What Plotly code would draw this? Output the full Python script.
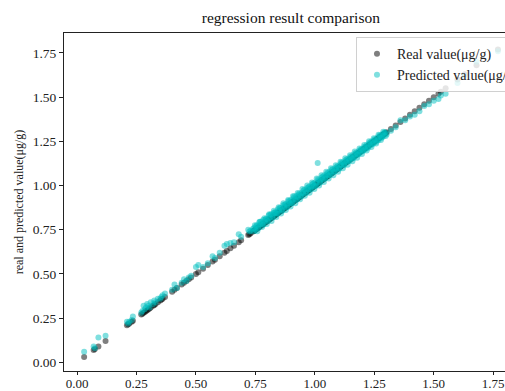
import plotly.graph_objects as go

# ---- data ----
real_low = [0.03, 0.07, 0.075, 0.09, 0.12,
            0.21, 0.215, 0.22, 0.23, 0.235,
            0.27, 0.275, 0.28, 0.285, 0.29, 0.295, 0.30, 0.305, 0.31, 0.32, 0.325, 0.33, 0.34, 0.35, 0.355, 0.36, 0.37,
            0.40, 0.41, 0.42, 0.44, 0.45, 0.46, 0.47, 0.48, 0.50, 0.51, 0.53, 0.55, 0.57, 0.58, 0.60, 0.62, 0.63,
            0.645, 0.66, 0.68, 0.69, 0.72, 0.725, 0.73]
pred_low = [0.06, 0.09, 0.08, 0.14, 0.15,
            0.23, 0.22, 0.23, 0.24, 0.26,
            0.28, 0.29, 0.32, 0.30, 0.31, 0.33, 0.32, 0.31, 0.34, 0.33, 0.35, 0.34, 0.36, 0.36, 0.37, 0.38, 0.39,
            0.41, 0.44, 0.42, 0.45, 0.47, 0.46, 0.48, 0.49, 0.54, 0.55, 0.54, 0.56, 0.60, 0.59, 0.62, 0.66, 0.67,
            0.675, 0.68, 0.725, 0.71, 0.75, 0.74, 0.745]

real_band_a = [0.740, 0.745, 0.750, 0.756, 0.761, 0.767, 0.772, 0.778, 0.783, 0.789, 0.795, 0.800, 0.806, 0.811,
               0.817, 0.822, 0.828, 0.834, 0.839, 0.845, 0.850, 0.856, 0.861, 0.867, 0.873, 0.878, 0.884, 0.889,
               0.895, 0.900, 0.906, 0.912, 0.917, 0.923, 0.928, 0.934, 0.939, 0.945, 0.951, 0.956, 0.962, 0.967,
               0.973, 0.978, 0.984, 0.990, 0.995, 1.001, 1.006, 1.012, 1.017, 1.023, 1.029, 1.034, 1.040, 1.045,
               1.051, 1.056, 1.062, 1.068, 1.073, 1.079, 1.084, 1.090, 1.095, 1.101, 1.107, 1.112, 1.118, 1.123,
               1.129, 1.134, 1.140, 1.146, 1.151, 1.157, 1.162, 1.168, 1.173, 1.179, 1.185, 1.190, 1.196, 1.201,
               1.207, 1.212, 1.218, 1.224, 1.229, 1.235, 1.240, 1.246, 1.251, 1.257, 1.263, 1.268, 1.274, 1.279,
               1.285, 1.290, 1.296, 1.302]
pred_band_a = [0.755, 0.760, 0.748, 0.776, 0.770, 0.792, 0.781, 0.786, 0.805, 0.795, 0.812, 0.808, 0.830, 0.818,
               0.838, 0.829, 0.846, 0.850, 0.845, 0.866, 0.858, 0.872, 0.865, 0.889, 0.880, 0.895, 0.890, 0.912,
               0.900, 0.918, 0.910, 0.930, 0.925, 0.941, 0.932, 0.955, 0.946, 0.960, 0.955, 0.976, 0.968, 0.985,
               0.978, 0.995, 0.990, 1.008, 0.998, 1.018, 1.010, 1.128, 1.030, 1.028, 1.045, 1.036, 1.058, 1.050,
               1.064, 1.058, 1.078, 1.070, 1.088, 1.080, 1.098, 1.092, 1.110, 1.100, 1.120, 1.115, 1.130, 1.122,
               1.142, 1.133, 1.152, 1.144, 1.165, 1.155, 1.175, 1.165, 1.186, 1.176, 1.196, 1.186, 1.207, 1.198,
               1.218, 1.206, 1.230, 1.218, 1.240, 1.228, 1.250, 1.238, 1.262, 1.247, 1.272, 1.258, 1.280, 1.270,
               1.292, 1.280, 1.300, 1.290]

real_band_b = [0.743, 0.753, 0.763, 0.773, 0.783, 0.793, 0.803, 0.813, 0.823, 0.833, 0.843, 0.853, 0.863, 0.873,
               0.883, 0.893, 0.903, 0.913, 0.923, 0.933, 0.943, 0.953, 0.963, 0.973, 0.983, 0.993, 1.003, 1.013,
               1.023, 1.033, 1.043, 1.053, 1.063, 1.073, 1.083, 1.093, 1.103, 1.113, 1.123, 1.133, 1.143, 1.153,
               1.163, 1.173, 1.183, 1.193, 1.203, 1.213, 1.223, 1.233, 1.243, 1.253, 1.263, 1.273, 1.283, 1.293]
pred_band_b = [0.742, 0.770, 0.758, 0.795, 0.778, 0.808, 0.800, 0.835, 0.820, 0.845, 0.840, 0.875, 0.858, 0.892,
               0.878, 0.910, 0.900, 0.940, 0.918, 0.948, 0.938, 0.972, 0.958, 0.990, 0.978, 1.012, 0.998, 1.035,
               1.018, 1.050, 1.040, 1.072, 1.058, 1.092, 1.078, 1.105, 1.095, 1.130, 1.115, 1.148, 1.138, 1.162,
               1.155, 1.182, 1.175, 1.202, 1.195, 1.220, 1.212, 1.245, 1.235, 1.258, 1.255, 1.285, 1.272, 1.300]

real_band_c = [0.748, 0.758, 0.768, 0.778, 0.788, 0.798, 0.808, 0.818, 0.828, 0.838, 0.848, 0.858, 0.868, 0.878,
               0.888, 0.898, 0.908, 0.918, 0.928, 0.938, 0.948, 0.958, 0.968, 0.978, 0.988, 0.998, 1.008, 1.018,
               1.028, 1.038, 1.048, 1.058, 1.068, 1.078, 1.088, 1.098, 1.108, 1.118, 1.128, 1.138, 1.148, 1.158,
               1.168, 1.178, 1.188, 1.198, 1.208, 1.218, 1.228, 1.238, 1.248, 1.258, 1.268, 1.278, 1.288, 1.298]
pred_band_c = [0.775, 0.742, 0.795, 0.765, 0.815, 0.782, 0.838, 0.800, 0.858, 0.822, 0.878, 0.842, 0.900, 0.862,
               0.918, 0.882, 0.940, 0.900, 0.958, 0.922, 0.980, 0.942, 1.000, 0.960, 1.018, 0.980, 1.040, 1.000,
               1.058, 1.020, 1.078, 1.040, 1.098, 1.058, 1.115, 1.078, 1.135, 1.098, 1.155, 1.118, 1.172, 1.138,
               1.192, 1.158, 1.210, 1.178, 1.230, 1.198, 1.250, 1.218, 1.268, 1.238, 1.288, 1.258, 1.305, 1.280]

real_high = [1.32, 1.34, 1.36, 1.38, 1.40, 1.42, 1.44, 1.46, 1.48, 1.50, 1.52, 1.53, 1.55, 1.60, 1.63, 1.68, 1.77]
pred_high = [1.31, 1.33, 1.37, 1.37, 1.39, 1.40, 1.42, 1.45, 1.46, 1.48, 1.49, 1.51, 1.52, 1.58, 1.62, 1.70, 1.76]

x_ticks = [0.00, 0.25, 0.50, 0.75, 1.00, 1.25, 1.50, 1.75]
y_ticks = [0.00, 0.25, 0.50, 0.75, 1.00, 1.25, 1.50, 1.75]

real_all = real_low + real_band_a + real_band_b + real_band_c + real_high
pred_all = pred_low + pred_band_a + pred_band_b + pred_band_c + pred_high

FONT = "Liberation Serif"

fig = go.Figure()
fig.add_trace(go.Scatter(
    x=real_all, y=real_all, mode="markers", name="Real value(μg/g)",
    marker=dict(size=6, color="rgba(0,0,0,0.5)", line=dict(width=0)),
))
fig.add_trace(go.Scatter(
    x=real_all, y=pred_all, mode="markers", name="Predicted value(μg/g)",
    marker=dict(size=6, color="rgba(0,191,191,0.5)", line=dict(width=0)),
))

# The reference picture is a crop of a slightly wider figure: draw it 530 px wide
# and let the 505 px window crop it the same way.
fig.update_layout(
    width=530, height=391,
    margin=dict(l=64, r=4, t=33, b=20, autoexpand=False),
    paper_bgcolor="white", plot_bgcolor="white",
    font=dict(family=FONT, size=13, color="#222"),
    title=dict(text="regression result comparison", x=0.491, xref="paper", xanchor="center",
               y=1 - 18 / 391, yref="container", yanchor="middle",
               font=dict(family=FONT, size=15.5, color="#111")),
    showlegend=True,
    legend=dict(x=0.632, y=0.988, xanchor="left", yanchor="top",
                bgcolor="rgba(255,255,255,0.8)", bordercolor="#d0d0d0", borderwidth=1,
                font=dict(family=FONT, size=14, color="#222"), tracegroupgap=0),
)
fig.update_xaxes(
    range=[-0.0547, 1.888], tickvals=x_ticks, ticktext=[f"{v:.2f}" for v in x_ticks],
    showgrid=False, zeroline=False, showline=True, linecolor="#222", linewidth=1, automargin=False,
    mirror=True, ticks="outside", ticklen=3, tickcolor="#222", tickfont=dict(size=13),
)
try:
    fig.update_xaxes(ticklabelstandoff=-3)
except Exception:
    pass
fig.update_yaxes(
    range=[-0.049, 1.863], tickvals=y_ticks, ticktext=[f"{v:.2f}" for v in y_ticks],
    showgrid=False, zeroline=False, showline=True, linecolor="#222", linewidth=1, automargin=False,
    mirror=True, ticks="outside", ticklen=4, tickcolor="#222", tickfont=dict(size=13.5),
    title=dict(text="real and predicted value(μg/g)", standoff=6, font=dict(family=FONT, size=12)),
)

fig.write_html("out.html", config={"displayModeBar": False},
               post_script="document.body.style.margin='0';document.body.style.overflow='hidden';")
